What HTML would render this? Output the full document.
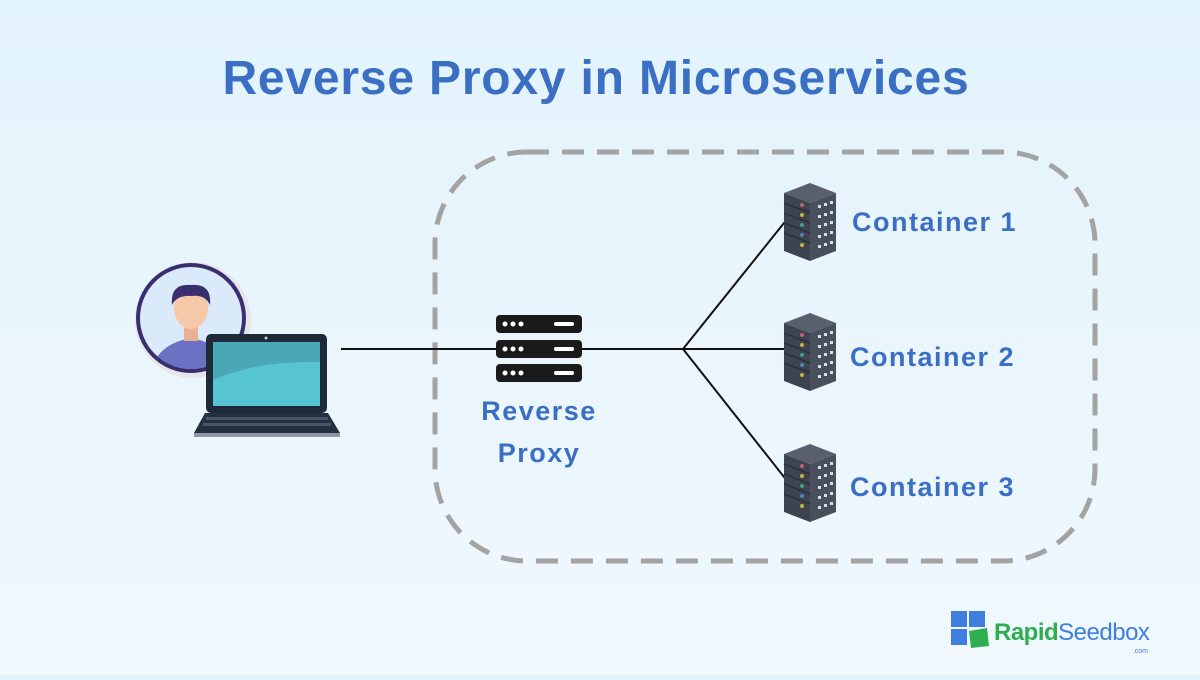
<!DOCTYPE html>
<html><head><meta charset="utf-8"><style>
html,body{margin:0;padding:0}
body{width:1200px;height:675px;overflow:hidden;background:linear-gradient(#e3f3fc,#f0f8fd);font-family:"Liberation Sans",sans-serif}
</style></head><body>
<svg width="1200" height="675" viewBox="0 0 1200 675" xmlns="http://www.w3.org/2000/svg">
<defs>
<g id="srv">
  <polygon points="0,10 26,0 52,10 26,20" fill="#5a5f6e"/>
  <polygon points="0,10 26,20 26,78 0,68" fill="#3e4350"/>
  <polygon points="26,20 52,10 52,68 26,78" fill="#4a4f5e"/>
  <g stroke="#2c303a" stroke-width="1.5">
    <line x1="0" y1="20" x2="26" y2="30"/><line x1="0" y1="30" x2="26" y2="40"/><line x1="0" y1="40" x2="26" y2="50"/><line x1="0" y1="50" x2="26" y2="60"/>
  </g>
  <circle cx="18" cy="22" r="2" fill="#c06070"/><circle cx="18" cy="32" r="2" fill="#c8b040"/><circle cx="18" cy="42" r="2" fill="#40a080"/><circle cx="18" cy="52" r="2" fill="#5080c0"/><circle cx="18" cy="62" r="2" fill="#c8b040"/>
  <g fill="#d8dce6">
    <rect x="34" y="22" width="3" height="3"/><rect x="40" y="20" width="3" height="3"/><rect x="46" y="18" width="3" height="3"/>
    <rect x="34" y="32" width="3" height="3"/><rect x="40" y="30" width="3" height="3"/><rect x="46" y="28" width="3" height="3"/>
    <rect x="34" y="42" width="3" height="3"/><rect x="40" y="40" width="3" height="3"/><rect x="46" y="38" width="3" height="3"/>
    <rect x="34" y="52" width="3" height="3"/><rect x="40" y="50" width="3" height="3"/><rect x="46" y="48" width="3" height="3"/>
    <rect x="34" y="62" width="3" height="3"/><rect x="40" y="60" width="3" height="3"/><rect x="46" y="58" width="3" height="3"/>
  </g>
</g>
<g id="bar">
  <rect x="0" y="0" width="86" height="18" rx="4" fill="#1a1a1a"/>
  <circle cx="9" cy="9" r="2.5" fill="#fff"/><circle cx="17" cy="9" r="2.5" fill="#fff"/><circle cx="25" cy="9" r="2.5" fill="#fff"/>
  <rect x="58" y="7" width="20" height="4" rx="2" fill="#fff"/>
</g>
</defs>
<text x="596" y="94" text-anchor="middle" font-size="48" font-weight="bold" fill="#3a6fc4" letter-spacing="0.8">Reverse Proxy in Microservices</text>
<rect x="435" y="152" width="660" height="409" rx="92" fill="none" stroke="#a3a3a3" stroke-width="5" stroke-dasharray="22 13"/>
<g stroke="#111" stroke-width="2" fill="none">
  <line x1="341" y1="349" x2="496" y2="349"/>
  <line x1="582" y1="349" x2="683" y2="349"/>
  <line x1="683" y1="349" x2="788" y2="218"/>
  <line x1="683" y1="349" x2="788" y2="349"/>
  <line x1="683" y1="349" x2="788" y2="482"/>
</g>
<use href="#bar" x="496" y="315"/><use href="#bar" x="496" y="340"/><use href="#bar" x="496" y="364"/>
<use href="#srv" x="784" y="183"/><use href="#srv" x="784" y="313"/><use href="#srv" x="784" y="444"/>
<g font-size="27" font-weight="bold" fill="#3a6fc4" letter-spacing="1.5">
<text x="539" y="420" text-anchor="middle">Reverse</text>
<text x="539" y="462" text-anchor="middle">Proxy</text>
<text x="852" y="231">Container 1</text>
<text x="850" y="366">Container 2</text>
<text x="850" y="496">Container 3</text>
</g>
<!-- user -->
<circle cx="193" cy="320" r="58" fill="#e6e6ea"/>
<circle cx="191" cy="318" r="53" fill="#dbeafa" stroke="#3a2f6e" stroke-width="4"/>
<clipPath id="cc"><circle cx="191" cy="318" r="51"/></clipPath>
<g clip-path="url(#cc)">
  <path d="M150 380 Q152 345 191 338 Q230 345 232 380 Z" fill="#6b72c4"/>
  <rect x="184" y="325" width="14" height="16" fill="#e9b193"/>
  <ellipse cx="191" cy="308" rx="17" ry="21" fill="#f6c8a8"/>
  <path d="M172 305 Q170 283 191 285 Q212 283 210 305 Q205 294 191 296 Q177 295 172 305Z" fill="#3a2f6e"/>
</g>
<!-- laptop -->
<rect x="206" y="334" width="121" height="79" rx="5" fill="#1f2a38"/>
<rect x="213" y="342" width="107" height="64" fill="#4aa7b6"/>
<path d="M213 380 Q260 360 320 362 L320 406 L213 406Z" fill="#57c4d2"/>
<circle cx="266" cy="338" r="1.5" fill="#ccc"/>
<path d="M205 413 L328 413 L340 433 L194 433Z" fill="#24303e"/>
<rect x="194" y="433" width="146" height="4" fill="#8c96a4"/>
<g fill="#4a5668"><rect x="206" y="417" width="122" height="3"/><rect x="203" y="423" width="128" height="3"/></g>
<!-- logo -->
<rect x="951" y="611" width="16" height="16" fill="#3f7de0"/><rect x="969" y="611" width="16" height="16" fill="#3f7de0"/>
<rect x="951" y="629" width="16" height="16" fill="#3f7de0"/>
<polygon points="969,631 987,628 989,646 971,648" fill="#2fae4f"/>
<text x="994" y="640" font-size="24" font-weight="bold" fill="#2fae4f" letter-spacing="-0.5">Rapid<tspan font-weight="normal" fill="#3f7de0">Seedbox</tspan></text>
<text x="1148" y="653" text-anchor="end" font-size="7" fill="#3f7de0">.com</text>
</svg>
</body></html>
